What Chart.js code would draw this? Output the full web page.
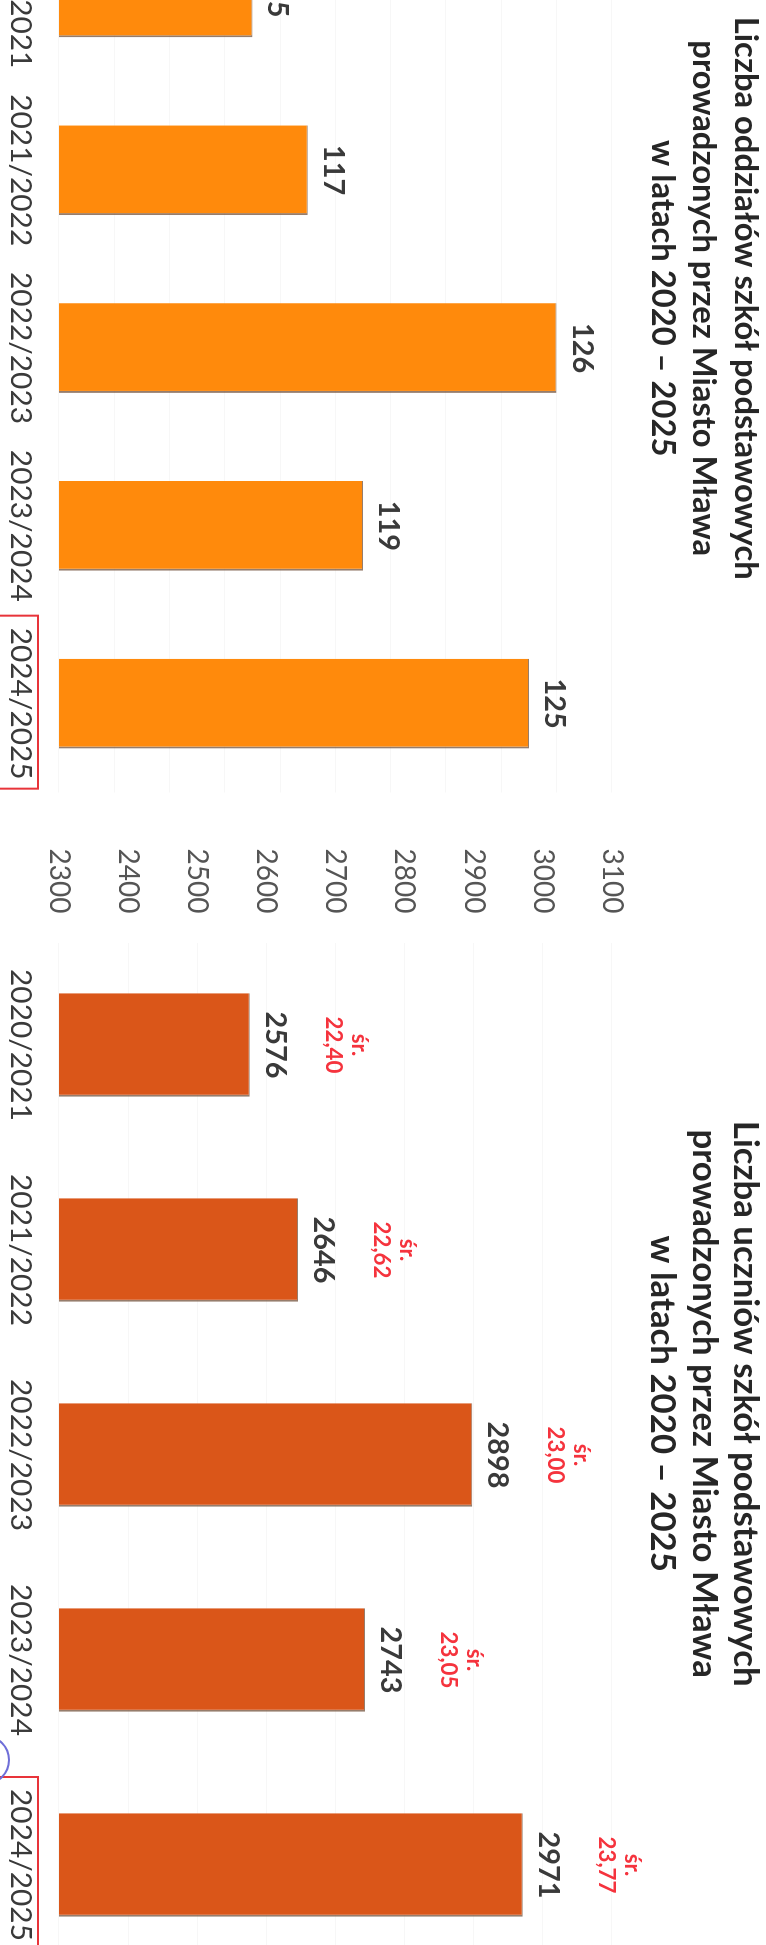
<!DOCTYPE html>
<html><head><meta charset="utf-8">
<script src="https://cdn.jsdelivr.net/npm/chart.js@4"></script>
<style>
html,body{margin:0;padding:0;background:#fff;overflow:hidden;width:766px;height:1945px;}
#page{position:absolute;left:0;top:0;width:1945px;height:766px;transform-origin:0 0;transform:translate(766px,0) rotate(90deg);}
.box{position:absolute;top:0;height:766px;}
#c1box{left:-200px;width:1000px;}
#c2box{left:840px;width:1140px;}
</style></head><body>
<div id="page">
  <div class="box" id="c1box"><canvas id="c1"></canvas></div>
  <div class="box" id="c2box"><canvas id="c2"></canvas></div>
</div>
<script>
// ---- data ----
const categories = ['2020/2021','2021/2022','2022/2023','2023/2024','2024/2025'];
const classCounts = [115, 117, 126, 119, 125];
const studentCounts = [2576, 2646, 2898, 2743, 2971];
const avgPerClass = [22.40, 22.62, 23.00, 23.05, 23.77];
const avgPrefix = 'śr.';
const yRange1 = [108, 128, 2];
const yRange2 = [2300, 3100, 100];
const title1 = ['Liczba oddziałów szkół podstawowych', 'prowadzonych przez Miasto Mława', 'w latach 2020 – 2025'];
const title2 = ['Liczba uczniów szkół podstawowych', 'prowadzonych przez Miasto Mława', 'w latach 2020 – 2025'];
const markedCategory = '2024/2025';

// ---- styling helpers ----
const FAM = 'Lato, "Noto Sans", sans-serif';
const mctx = document.createElement('canvas').getContext('2d');
function fit(text, weight, target) {
  mctx.font = weight + ' 100px ' + FAM;
  return 100 * target / mctx.measureText(text).width;
}
const titleSize1 = fit(title1[0], 'bold', 563);
const titleSize2 = fit(title2[0], 'bold', 566);
const catSize = fit('2021/2022', 'normal', 152);
const tickSize = fit('2800', 'normal', 65);
const valSize = fit('2576', 'bold', 67);
const redSize = fit('22,40', 'bold', 57);
const fmt = v => v.toFixed(2).replace('.', ',');

const labelPlugin = {
  id: 'valLabels',
  afterDatasetsDraw(chart, args, o) {
    const ctx = chart.ctx;
    const meta = chart.getDatasetMeta(0);
    const ds = chart.data.datasets[0];
    ctx.save();
    ctx.textAlign = 'center';
    ctx.textBaseline = 'alphabetic';
    meta.data.forEach((bar, i) => {
      ctx.font = 'bold ' + valSize + 'px ' + FAM;
      ctx.fillStyle = '#3a3a3a';
      ctx.fillText(String(ds.data[i]), bar.x, bar.y - 16);
      if (o.avg) {
        ctx.font = 'bold ' + redSize + 'px ' + FAM;
        ctx.fillStyle = '#f5333d';
        ctx.fillText(fmt(o.avg[i]), bar.x, bar.y - 76);
        ctx.fillText(avgPrefix, bar.x, bar.y - 102);
      }
    });
    ctx.restore();
  },
  afterDraw(chart, args, o) {
    const ctx = chart.ctx;
    const xs = chart.scales.x;
    const idx = chart.data.labels.indexOf(markedCategory);
    const cx = xs.getPixelForValue(idx);
    ctx.save();
    ctx.strokeStyle = '#e8343a';
    ctx.lineWidth = 2;
    ctx.strokeRect(cx - 88, 728, 173, 60);
    if (o.arc) {
      ctx.strokeStyle = '#6f6fd8';
      ctx.lineWidth = 2;
      ctx.beginPath();
      ctx.arc(cx - 105, 781, 24, 0, Math.PI * 2);
      ctx.stroke();
    }
    ctx.restore();
  }
};

function makeChart(id, values, color, yr, title, tSize, yw, padRight, extra) {
  return new Chart(document.getElementById(id), {
    type: 'bar',
    data: {
      labels: categories,
      datasets: [{
        data: values,
        backgroundColor: color,
        borderColor: 'rgba(105,70,45,0.7)',
        borderWidth: {top: 1, right: 2, bottom: 0, left: 0},
        borderSkipped: false,
        categoryPercentage: 1,
        barPercentage: 0.505
      }]
    },
    options: {
      responsive: true,
      maintainAspectRatio: false,
      animation: false,
      layout: {padding: {left: 0, right: padRight, top: 0, bottom: 0}},
      plugins: {
        legend: {display: false},
        tooltip: {enabled: false},
        title: {
          display: true, text: title, color: '#262626',
          font: {family: FAM, weight: 'bold', size: tSize, lineHeight: 41.4 / tSize},
          padding: {top: 0, bottom: 30}
        },
        valLabels: extra
      },
      scales: {
        x: {
          grid: {display: false, drawTicks: false},
          border: {display: false},
          ticks: {color: '#3a3a3a', font: {family: FAM, size: catSize}, padding: 20, maxRotation: 0, autoSkip: false},
          afterFit(s) { s.height = 59; }
        },
        y: {
          min: yr[0], max: yr[1],
          ticks: {stepSize: yr[2], color: '#555', font: {family: FAM, size: tickSize}, padding: 29,
                  callback: v => String(v)},
          grid: {color: 'rgba(0,0,0,0.03)', drawTicks: false},
          border: {display: false},
          afterFit(s) { s.width = yw; }
        }
      }
    },
    plugins: [labelPlugin]
  });
}

makeChart('c1', classCounts, '#ff8a0c', yRange1, title1, titleSize1, 103.5, 3.5, {});
makeChart('c2', studentCounts, '#da5619', yRange2, title2, titleSize2, 102.5, 12.5, {avg: avgPerClass, arc: true});
</script>
</body></html>
